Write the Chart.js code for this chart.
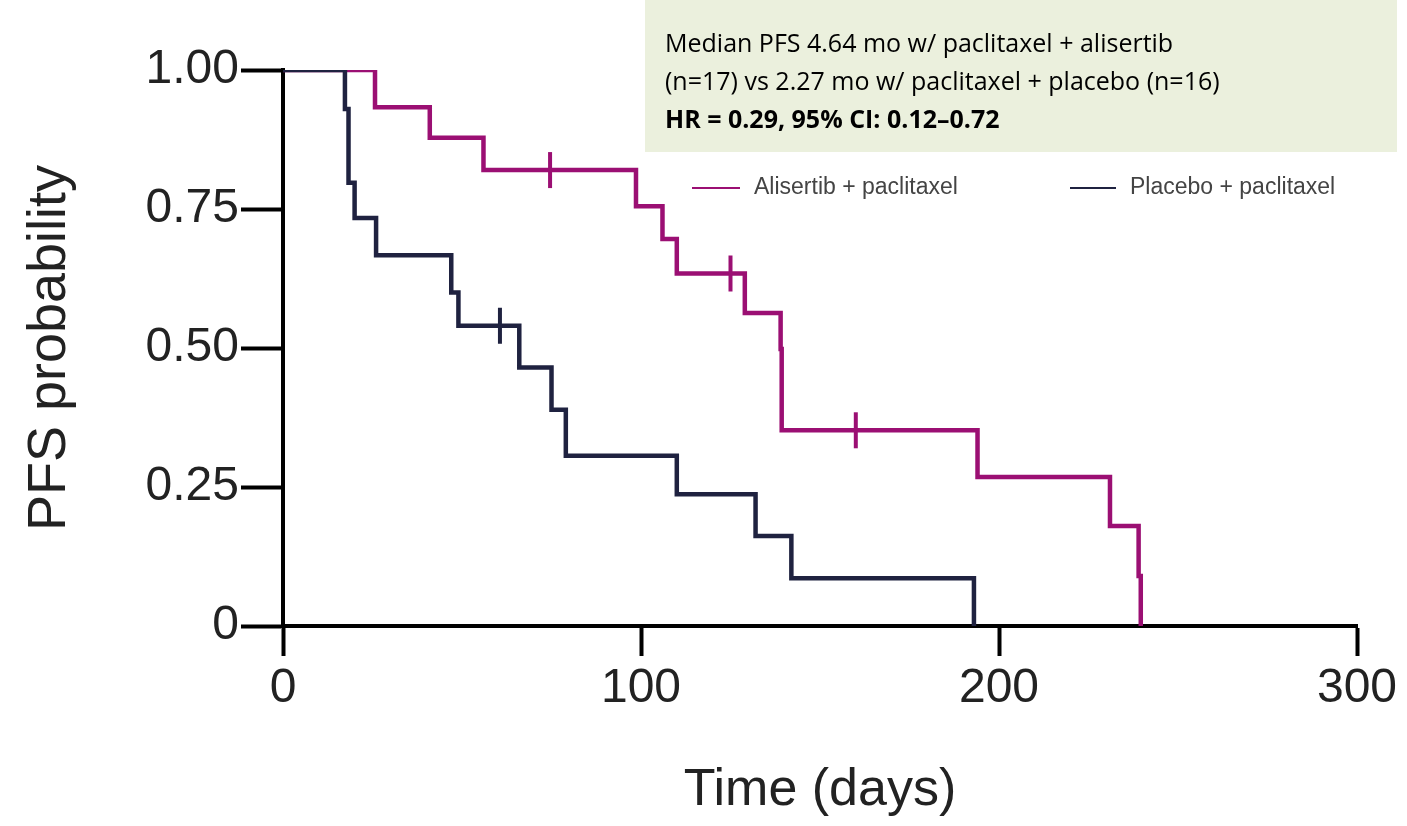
<!DOCTYPE html>
<html><head><meta charset="utf-8">
<script src="https://cdn.jsdelivr.net/npm/chart.js@4"></script>
<style>html,body{margin:0;padding:0;background:#fff}#w{width:1407px;height:826px}</style>
</head><body><div id="w"><canvas id="c"></canvas></div>
<script>
const aliTimes=[0,25.7,41,56,98.6,106,110,129,139,139.3,194,231,239,239.6];
const aliSurv=[1,0.933,0.878,0.82,0.755,0.696,0.634,0.563,0.498,0.352,0.268,0.18,0.09,0];
const aliCensT=[74.6,125,160];
const aliCensS=[0.82,0.634,0.352];
const plaTimes=[0,17.3,18.3,20,26,47,49,66,75,79,110,132,142,193];
const plaSurv=[1,0.93,0.797,0.734,0.667,0.60,0.54,0.465,0.389,0.306,0.237,0.162,0.086,0];
const plaCensT=[60.6];
const plaCensS=[0.54];
const xTicks=[0,100,200,300];
const yTicks=[0,0.25,0.5,0.75,1];
const yLabels={0:'0',0.25:'0.25',0.5:'0.50',0.75:'0.75',1:'1.00'};
const magenta='#9B0F73', navy='#1F2240';
const pts=(t,s)=>t.map((v,i)=>({x:v,y:s[i]}));
const boxPlugin={id:'box',afterDraw(ch){const c=ch.ctx;c.save();
c.fillStyle='#EBF0DD';c.fillRect(645,0,752,152);
c.fillStyle='#000';c.font='25px "Open Sans", sans-serif';c.textBaseline='middle';
c.fillText('Median PFS 4.64 mo w/ paclitaxel + alisertib',665,45);
c.fillText('(n=17) vs 2.27 mo w/ paclitaxel + placebo (n=16)',665,83);
c.font='bold 25px "Open Sans", sans-serif';c.fillText('HR = 0.29, 95% CI: 0.12\u20130.72',665,121);
c.font='23px "Liberation Sans", Arial, sans-serif';c.fillStyle='#444';
c.lineWidth=2;c.strokeStyle=magenta;c.beginPath();c.moveTo(692,188);c.lineTo(740,188);c.stroke();
c.fillText('Alisertib + paclitaxel',754,188);
c.strokeStyle=navy;c.beginPath();c.moveTo(1070,188);c.lineTo(1116,188);c.stroke();
c.fillText('Placebo + paclitaxel',1130,188);
c.restore();}};
new Chart(document.getElementById('c'),{
type:'line',
data:{datasets:[
{data:pts(plaTimes,plaSurv),stepped:'before',borderColor:navy,borderWidth:4.5,pointRadius:0,fill:false},
{data:pts(aliTimes,aliSurv),stepped:'before',borderColor:magenta,borderWidth:4.5,pointRadius:0,fill:false},
{type:'scatter',data:pts(aliCensT,aliCensS),pointStyle:'line',rotation:90,pointRadius:18,borderColor:magenta,borderWidth:4,showLine:false},
{type:'scatter',data:pts(plaCensT,plaCensS),pointStyle:'line',rotation:90,pointRadius:18,borderColor:navy,borderWidth:4,showLine:false}
]},
options:{responsive:true,maintainAspectRatio:false,animation:false,
layout:{padding:{top:70,right:50,left:0,bottom:0}},
plugins:{legend:{display:false},tooltip:{enabled:false}},
scales:{
x:{type:'linear',min:0,max:300,afterBuildTicks:s=>{s.ticks=xTicks.map(v=>({value:v}))},
 border:{display:true,color:'#000',width:4},
 grid:{drawOnChartArea:false,drawTicks:true,tickLength:30,tickWidth:4,tickColor:'#000'},
 ticks:{color:'#222',font:{size:48,family:'"Liberation Sans", Arial'},padding:4,maxRotation:0},
 title:{display:true,text:'Time (days)',color:'#222',font:{size:52,family:'"Liberation Sans", Arial'},padding:{top:26}},
 afterFit:s=>{s.height=200}},
y:{type:'linear',min:0,max:1,afterBuildTicks:s=>{s.ticks=yTicks.map(v=>({value:v}))},
 border:{display:true,color:'#000',width:4},
 grid:{drawOnChartArea:false,drawTicks:true,tickLength:42,tickWidth:4,tickColor:'#000'},
 ticks:{color:'#222',font:{size:48,family:'"Liberation Sans", Arial'},padding:2,callback:v=>yLabels[v]},
 title:{display:true,text:'PFS probability',color:'#222',font:{size:54,family:'"Liberation Sans", Arial'},padding:{top:18,bottom:0}},
 afterFit:s=>{s.width=283}}
}},
plugins:[boxPlugin]});
</script></body></html>
